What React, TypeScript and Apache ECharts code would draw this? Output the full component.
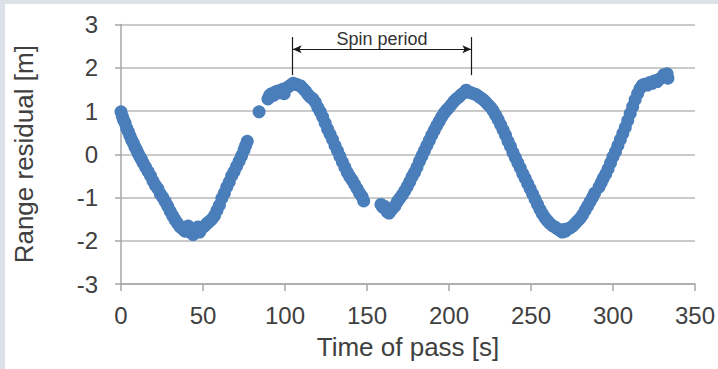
import { useEffect, useRef } from "react";
import * as echarts from "echarts";

// Range residual [m] against time of pass [s], one [t, r] pair per measurement,
// grouped by the stretches of the pass that have continuous coverage.
const firstArc: [number, number][] = [
  [0, 0.98], [0.8, 0.88], [1.5, 0.8], [2.5, 0.72], [3.5, 0.6], [4.5, 0.52], [5.5, 0.42],
  [6.5, 0.33], [7.5, 0.26], [8.5, 0.17], [9.5, 0.1], [10.5, 0.02], [11.5, -0.06],
  [12.5, -0.12], [13.5, -0.2], [15, -0.3], [16.5, -0.4], [18, -0.5], [19.5, -0.62],
  [21, -0.72], [22.5, -0.8], [24, -0.92], [25.5, -1.0], [27, -1.1], [28.5, -1.2],
  [30, -1.32], [31.5, -1.42], [33, -1.52], [34.5, -1.6], [36, -1.68], [37.5, -1.72],
  [39, -1.78], [40.5, -1.76], [41, -1.66], [42, -1.8], [43.5, -1.74], [44, -1.86],
  [45, -1.78], [46.5, -1.72], [47, -1.68], [48, -1.8], [49.5, -1.7], [51, -1.66],
  [52.5, -1.6], [54, -1.55], [55.5, -1.5], [57, -1.42], [58.5, -1.3], [60, -1.18],
  [61.5, -1.02], [63, -0.9], [64.5, -0.76], [66, -0.64], [67.5, -0.5], [69, -0.4],
  [70.5, -0.28], [72, -0.16], [73.5, -0.04], [75, 0.1], [76, 0.2], [77, 0.3],
];

const isolatedPoints: [number, number][] = [[84.2, 0.98]];

const secondArc: [number, number][] = [
  [89.6, 1.28], [90.6, 1.36], [91.8, 1.4], [93, 1.36], [94.2, 1.44], [95.5, 1.46],
  [97, 1.42], [98.5, 1.5], [99.5, 1.4], [100.5, 1.52], [102, 1.56], [103.5, 1.6],
  [105, 1.64], [106.5, 1.62], [108, 1.6], [109.5, 1.58], [111, 1.52], [112.5, 1.46],
  [114, 1.38], [115.5, 1.32], [117, 1.28], [118.5, 1.2], [120, 1.08], [121.5, 0.98],
  [123, 0.86], [124.5, 0.72], [126, 0.58], [127.5, 0.46], [129, 0.34], [130.5, 0.2],
  [132, 0.08], [133.5, -0.05], [135, -0.18], [136.5, -0.3], [138, -0.42], [139.5, -0.52],
  [141, -0.6], [142.5, -0.7], [144, -0.8], [145.5, -0.9], [147, -0.98], [148, -1.08],
];

const thirdArc: [number, number][] = [
  [158.5, -1.16], [159.5, -1.22], [160.5, -1.2], [161.5, -1.28], [162.5, -1.34],
  [163.5, -1.36], [164.5, -1.3], [165.5, -1.26], [167, -1.2], [168.5, -1.1], [170, -1.02],
  [171.5, -0.94], [173, -0.85], [174.5, -0.75], [176, -0.64], [177.5, -0.52], [179, -0.42],
  [180.5, -0.3], [182, -0.16], [183.5, -0.04], [185, 0.08], [186.5, 0.2], [188, 0.32],
  [189.5, 0.44], [191, 0.55], [192.5, 0.66], [194, 0.76], [195.5, 0.86], [197, 0.95],
  [198.5, 1.02], [200, 1.08], [201.5, 1.15], [203, 1.22], [204.5, 1.28], [206, 1.32],
  [207.5, 1.38], [209, 1.42], [210.5, 1.48], [212, 1.44], [213.5, 1.42], [215, 1.4],
  [216.5, 1.38], [218, 1.34], [219.5, 1.3], [221, 1.26], [222.5, 1.2], [224, 1.14],
  [225.5, 1.08], [227, 1.0], [228.5, 0.9], [230, 0.8], [231.5, 0.68], [233, 0.56],
  [234.5, 0.44], [236, 0.3], [237.5, 0.18], [239, 0.04], [240.5, -0.08], [242, -0.2],
  [243.5, -0.32], [245, -0.45], [246.5, -0.56], [248, -0.68], [249.5, -0.8], [251, -0.92],
  [252.5, -1.04], [254, -1.16], [255.5, -1.28], [257, -1.38], [258.5, -1.47], [260, -1.54],
  [261.5, -1.6], [263, -1.65], [264.5, -1.68], [266, -1.72], [267.5, -1.76], [269, -1.8],
  [270, -1.74], [271, -1.78], [272.5, -1.72], [274, -1.7], [275.5, -1.66], [277, -1.6],
  [278.5, -1.54], [280, -1.48], [281.5, -1.4], [283, -1.3], [284.5, -1.2], [286, -1.1],
  [287.5, -1.0], [288.8, -0.9],
];

const fourthArc: [number, number][] = [
  [291.5, -0.76], [292.8, -0.66], [294, -0.56], [295.5, -0.46], [297, -0.34], [298.5, -0.2],
  [300, -0.06], [301.5, 0.06], [303, 0.2], [304.5, 0.34], [306, 0.48], [307.5, 0.62],
  [309, 0.78], [310.5, 0.94], [312, 1.1], [313.5, 1.26], [315, 1.4], [316.5, 1.52],
  [318, 1.6], [319.5, 1.62], [321, 1.6], [322.5, 1.66], [324, 1.64], [325.5, 1.7],
  [327, 1.68], [328.5, 1.74], [330, 1.78], [331, 1.84], [332, 1.8], [333, 1.86],
  [333.5, 1.76],
];

// Spin period annotation: from one residual peak to the next.
const spinStart = 104.7;
const spinEnd = 213.6;
const spinArrowLevel = 2.43;
const spinBarTop = 2.71;
const spinBarBottom = 1.83;

const xTicks = { min: 0, max: 350, interval: 50 };
const yTicks = { min: -3, max: 3, interval: 1 };

const FONT = "'Liberation Sans', Arial, sans-serif";
const TEXT = "#404040";
const AXIS = "#a6a6a6";
const GRID = "#b8b8b8";
const DOT = "#4a7ebb";

export default function App() {
  const ref = useRef<HTMLDivElement>(null);

  useEffect(() => {
    if (!ref.current) return;
    const chart = echarts.init(ref.current, null, { renderer: "svg" });
    const points = [...firstArc, ...isolatedPoints, ...secondArc, ...thirdArc, ...fourthArc];

    chart.setOption({
      animation: false,
      backgroundColor: "#ffffff",
      textStyle: { fontFamily: FONT },
      graphic: [
        { type: "rect", shape: { x: 0, y: 0, width: 718, height: 4 }, style: { fill: "#dde2e8" }, silent: true },
        { type: "rect", shape: { x: 0, y: 0, width: 5, height: 369 }, style: { fill: "#dde2e8" }, silent: true },
      ],
      grid: { left: 121, top: 24.5, width: 576, height: 259.5, containLabel: false },
      xAxis: {
        type: "value",
        ...xTicks,
        name: "Time of pass [s]",
        nameLocation: "middle",
        nameGap: 50,
        nameTextStyle: { fontSize: 26, color: TEXT, fontFamily: FONT },
        axisLine: { show: true, onZero: false, lineStyle: { color: AXIS, width: 1.5 } },
        axisTick: { show: true, length: 7, lineStyle: { color: AXIS, width: 1.5 } },
        axisLabel: { fontSize: 24, color: TEXT, margin: 19, fontFamily: FONT },
        splitLine: { show: false },
      },
      yAxis: {
        type: "value",
        ...yTicks,
        name: "Range residual [m]",
        nameLocation: "middle",
        nameGap: 84,
        nameTextStyle: { fontSize: 26, color: TEXT, fontFamily: FONT },
        axisLine: { show: true, onZero: false, lineStyle: { color: AXIS, width: 1.5 } },
        axisTick: { show: true, length: 6, lineStyle: { color: AXIS, width: 1.5 } },
        axisLabel: { fontSize: 24, color: TEXT, margin: 23, fontFamily: FONT },
        splitLine: { show: true, lineStyle: { color: GRID, width: 1.5 } },
      },
      series: [
        {
          type: "scatter",
          data: points,
          symbol: "circle",
          symbolSize: 13,
          itemStyle: { color: DOT, opacity: 1 },
          markLine: {
            silent: true,
            animation: false,
            symbol: ["arrow", "arrow"],
            symbolSize: [6, 9],
            lineStyle: { color: "#1a1a1a", type: "solid", width: 1.2 },
            label: {
              show: true,
              position: "middle",
              formatter: "Spin period",
              fontSize: 18,
              color: "#333333",
              distance: 1,
              fontFamily: FONT,
            },
            data: [
              [{ coord: [spinStart, spinArrowLevel] }, { coord: [spinEnd, spinArrowLevel] }],
              [
                { coord: [spinStart, spinBarTop], symbol: "none", label: { show: false } },
                { coord: [spinStart, spinBarBottom], symbol: "none" },
              ],
              [
                { coord: [spinEnd, spinBarTop], symbol: "none", label: { show: false } },
                { coord: [spinEnd, spinBarBottom], symbol: "none" },
              ],
            ],
          },
        },
      ],
    });

    return () => chart.dispose();
  }, []);

  return (
    <div
      ref={ref}
      style={{ position: "absolute", left: 0, top: 0, width: 718, height: 369, background: "#fff" }}
    />
  );
}
